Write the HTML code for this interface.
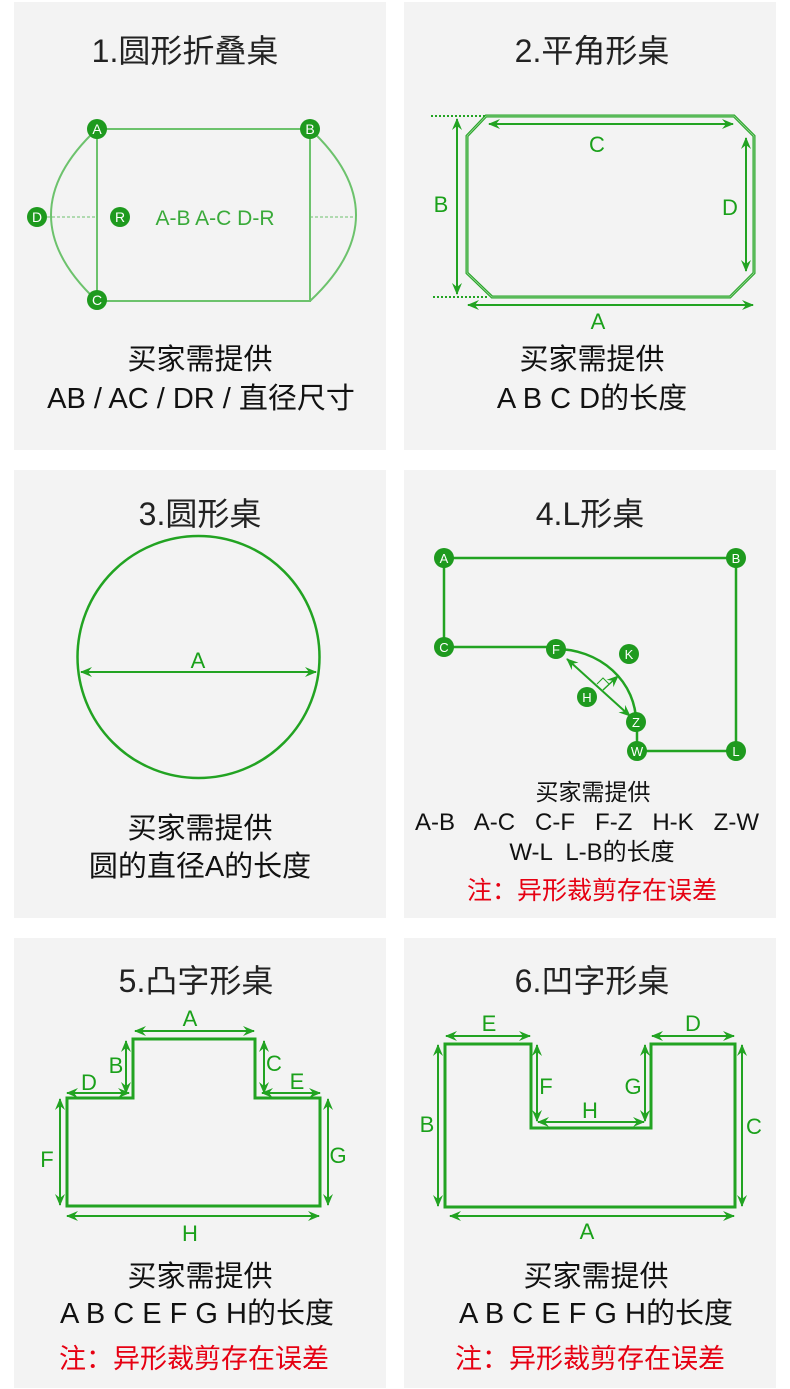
<!DOCTYPE html>
<html><head><meta charset="utf-8"><style>
html,body{margin:0;padding:0;background:#fff;}
svg{display:block}
text{font-family:"Liberation Sans","Noto Sans CJK SC",sans-serif;}
.t{font-size:32px;fill:#222;text-anchor:middle}
.b{font-size:29px;fill:#111;text-anchor:middle}
.s{font-size:23px;fill:#111;text-anchor:middle}
.r{font-size:25px;fill:#e60012;text-anchor:middle}
.r2{font-size:27px;fill:#e60012;text-anchor:middle}
.g{fill:#1aa01a;font-size:22px;text-anchor:middle}
.n{fill:#fff;font-size:13px;text-anchor:middle}
.sh{fill:none;stroke:#22a322;stroke-width:3}
.ar{fill:none;stroke:#22a322;stroke-width:2;marker-start:url(#m);marker-end:url(#m)}
</style></head><body>
<svg width="790" height="1389" viewBox="0 0 790 1389">
<defs>
<marker id="m" viewBox="0 0 12 10" refX="11" refY="5" markerWidth="12" markerHeight="10" markerUnits="userSpaceOnUse" orient="auto-start-reverse">
<path d="M0,0 L12,5 L0,10 L4,5z" fill="#22a322"/></marker>
</defs>
<g fill="#f3f3f3">
<rect x="14" y="2" width="372" height="448"/><rect x="404" y="2" width="372" height="448"/>
<rect x="14" y="470" width="372" height="448"/><rect x="404" y="470" width="372" height="448"/>
<rect x="14" y="938" width="372" height="450"/><rect x="404" y="938" width="372" height="450"/>
</g>

<!-- Panel 1 -->
<text class="t" x="185" y="62">1.圆形折叠桌</text>
<g fill="none" stroke="#6cc26c" stroke-width="2">
<rect x="97" y="129" width="213" height="172"/>
<path d="M97,129 Q5,215 97,301"/>
<path d="M310,129 Q402,215 310,301"/>
<path d="M37,217 H97 M310,217 H356" stroke-dasharray="3,2" stroke-width="1"/>
</g>
<g fill="#1e9a1e">
<circle cx="97" cy="129" r="10"/><circle cx="310" cy="129" r="10"/>
<circle cx="97" cy="300" r="10"/><circle cx="37" cy="217" r="10"/><circle cx="120" cy="217" r="10"/>
</g>
<g class="n" style="font-size:14px">
<text x="97" y="134">A</text><text x="310" y="134">B</text><text x="97" y="305">C</text>
<text x="37" y="222">D</text><text x="120" y="222">R</text></g>
<text class="g" x="215" y="225" style="fill:#3aaa3a;font-size:21px">A-B A-C D-R</text>
<text class="b" x="200" y="369">买家需提供</text>
<text class="b" x="201" y="408">AB / AC / DR / 直径尺寸</text>

<!-- Panel 2 -->
<text class="t" x="592" y="62">2.平角形桌</text>
<path class="sh" d="M486,116 H734 L754,136 V273 L730,297 H492 L467,273 V136 Z" stroke-width="5"/>
<path d="M486,116 H734 L754,136 V273 L730,297 H492 L467,273 V136 Z" fill="none" stroke="#8fd08f" stroke-width="1"/>
<path d="M431,116 H486 M433,297 H487" stroke="#22a322" stroke-width="2" stroke-dasharray="2,2"/>
<path class="ar" d="M457,119 V294"/>
<path class="ar" d="M489,124 H733"/>
<path class="ar" d="M746,138 V271"/>
<path class="ar" d="M468,305 H753"/>
<text class="g" x="441" y="212">B</text><text class="g" x="597" y="152">C</text>
<text class="g" x="730" y="215">D</text><text class="g" x="598" y="329">A</text>
<text class="b" x="592" y="369">买家需提供</text>
<text class="b" x="592" y="408">A B C D的长度</text>

<!-- Panel 3 -->
<text class="t" x="200" y="525">3.圆形桌</text>
<circle cx="198.5" cy="657" r="121" fill="none" stroke="#22a322" stroke-width="2.5"/>
<path class="ar" d="M81,672 H316"/>
<text class="g" x="198" y="668">A</text>
<text class="b" x="200" y="838">买家需提供</text>
<text class="b" x="200" y="876">圆的直径A的长度</text>

<!-- Panel 4 -->
<text class="t" x="590" y="525">4.L形桌</text>
<g fill="none" stroke="#22a322" stroke-width="2.5">
<path d="M444,558 H736 V751 H637 V722 M444,558 V647 H556"/>
<path d="M556,649 A80,73 0 0 1 636,722"/>
</g>
<path class="ar" d="M567,659 L630,716" stroke-width="1.5"/>
<path d="M603,690 L618,676" stroke="#22a322" stroke-width="1.5" marker-end="url(#m)" fill="none"/>
<path d="M597,684 L603,678 L609,684" fill="none" stroke="#22a322" stroke-width="1"/>
<g fill="#1e9a1e">
<circle cx="444" cy="558" r="10"/><circle cx="736" cy="558" r="10"/><circle cx="444" cy="647" r="10"/>
<circle cx="556" cy="649" r="10"/><circle cx="629" cy="654" r="10"/><circle cx="587" cy="697" r="10"/>
<circle cx="636" cy="722" r="10"/><circle cx="637" cy="751" r="10"/><circle cx="736" cy="751" r="10"/>
</g>
<g class="n">
<text x="444" y="563">A</text><text x="736" y="563">B</text><text x="444" y="652">C</text>
<text x="556" y="654">F</text><text x="629" y="659">K</text><text x="587" y="702">H</text>
<text x="636" y="727">Z</text><text x="637" y="756">W</text><text x="736" y="756">L</text></g>
<text class="s" x="593" y="800">买家需提供</text>
<text class="s" x="587" y="830" xml:space="preserve" style="font-size:24px">A-B   A-C   C-F   F-Z   H-K   Z-W</text>
<text class="s" x="592" y="860" xml:space="preserve" style="font-size:24px">W-L  L-B的长度</text>
<text class="r" x="592" y="899">注：异形裁剪存在误差</text>

<!-- Panel 5 -->
<text class="t" x="196" y="992">5.凸字形桌</text>
<path class="sh" d="M67,1098 H133 V1039 H255 V1098 H320 V1206 H67 Z"/>
<path class="ar" d="M135,1031 H254"/>
<path class="ar" d="M126,1041 V1093"/>
<path class="ar" d="M67,1093 H129"/>
<path class="ar" d="M264,1041 V1093"/>
<path class="ar" d="M262,1093 H320"/>
<path class="ar" d="M60,1099 V1205"/>
<path class="ar" d="M328,1099 V1205"/>
<path class="ar" d="M67,1216 H319"/>
<text class="g" x="190" y="1026">A</text><text class="g" x="116" y="1073">B</text>
<text class="g" x="89" y="1090">D</text><text class="g" x="274" y="1071">C</text>
<text class="g" x="297" y="1089">E</text><text class="g" x="47" y="1167">F</text>
<text class="g" x="338" y="1163">G</text><text class="g" x="190" y="1241">H</text>
<text class="b" x="200" y="1286">买家需提供</text>
<text class="b" x="197" y="1323">A B C E F G H的长度</text>
<text class="r2" x="194" y="1368">注：异形裁剪存在误差</text>

<!-- Panel 6 -->
<text class="t" x="592" y="992">6.凹字形桌</text>
<path class="sh" d="M445,1044 H531 V1128 H651 V1044 H735 V1207 H445 Z"/>
<path class="ar" d="M446,1036 H530"/>
<path class="ar" d="M652,1036 H734"/>
<path class="ar" d="M438,1045 V1206"/>
<path class="ar" d="M537,1045 V1121"/>
<path class="ar" d="M645,1045 V1121"/>
<path class="ar" d="M538,1122 H644"/>
<path class="ar" d="M742,1045 V1206"/>
<path class="ar" d="M450,1216 H734"/>
<text class="g" x="489" y="1031">E</text><text class="g" x="693" y="1031">D</text>
<text class="g" x="427" y="1132">B</text><text class="g" x="546" y="1094">F</text>
<text class="g" x="633" y="1094">G</text><text class="g" x="590" y="1118">H</text>
<text class="g" x="754" y="1134">C</text><text class="g" x="587" y="1239">A</text>
<text class="b" x="596" y="1286">买家需提供</text>
<text class="b" x="596" y="1323">A B C E F G H的长度</text>
<text class="r2" x="590" y="1368">注：异形裁剪存在误差</text>
</svg>
</body></html>
